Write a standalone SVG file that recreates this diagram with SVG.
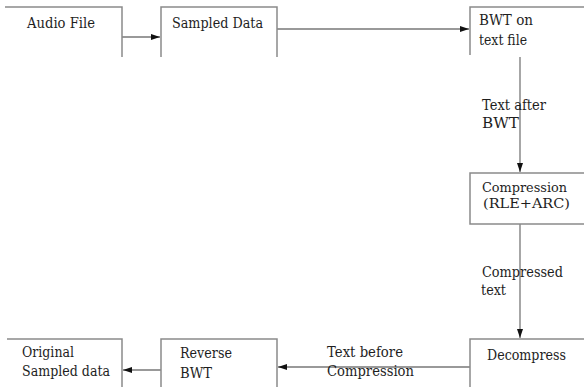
<svg xmlns="http://www.w3.org/2000/svg" width="584" height="387" viewBox="0 0 584 387">
<style>
.box{fill:none;stroke:#8a8a8a;stroke-width:1.5}
.t{font-family:"DejaVu Serif",serif;font-size:14.5px;fill:#1e1e1e}
.s{font-size:13px}
.c{fill:none;stroke:#777;stroke-width:1.3}
</style>
<defs>
<marker id="ah" markerWidth="10" markerHeight="8" refX="9" refY="4" orient="auto" markerUnits="userSpaceOnUse">
<path d="M0,1 L9,4 L0,7 z" fill="#111"/>
</marker>
</defs>
<rect width="584" height="387" fill="#fff"/>
<g id="connectors">
<line class="c" x1="122" y1="37" x2="160" y2="37" marker-end="url(#ah)"/>
<line class="c" x1="277" y1="29" x2="469" y2="29" marker-end="url(#ah)"/>
<line class="c" x1="520" y1="57" x2="520" y2="172" marker-end="url(#ah)"/>
<line class="c" x1="520" y1="224" x2="520" y2="338" marker-end="url(#ah)"/>
<line class="c" x1="470" y1="367" x2="278" y2="367" marker-end="url(#ah)"/>
<line class="c" x1="161" y1="370" x2="123" y2="370" marker-end="url(#ah)"/>
<text class="t" x="482" y="110" textLength="64" lengthAdjust="spacingAndGlyphs">Text after</text>
<text class="t" x="482" y="128" textLength="37" lengthAdjust="spacingAndGlyphs">BWT</text>
<text class="t" x="482" y="277" textLength="81" lengthAdjust="spacingAndGlyphs">Compressed</text>
<text class="t" x="481" y="295" textLength="25" lengthAdjust="spacingAndGlyphs">text</text>
<text class="t" x="327" y="357" textLength="76" lengthAdjust="spacingAndGlyphs">Text before</text>
<text class="t" x="327" y="376" textLength="87" lengthAdjust="spacingAndGlyphs">Compression</text>
</g>
<g id="audio">
<path class="box" d="M5,7 H122 V57"/>
<text class="t" x="27" y="28" textLength="68" lengthAdjust="spacingAndGlyphs">Audio File</text>
</g>
<g id="sampled">
<path class="box" d="M161,57 V7 H277 V57"/>
<text class="t" x="172" y="28" textLength="91" lengthAdjust="spacingAndGlyphs">Sampled Data</text>
</g>
<g id="bwt">
<path class="box" d="M470,55 V7 H590"/>
<text class="t" x="479" y="25" textLength="54" lengthAdjust="spacingAndGlyphs">BWT on</text>
<text class="t" x="479" y="45" textLength="48" lengthAdjust="spacingAndGlyphs">text file</text>
</g>
<g id="compression">
<path class="box" d="M590,173 H470 V224 H590"/>
<text class="t s" x="482" y="192" textLength="85" lengthAdjust="spacingAndGlyphs">Compression</text>
<text class="t s" x="483" y="208" textLength="87" lengthAdjust="spacingAndGlyphs">(RLE+ARC)</text>
</g>
<g id="decompress">
<path class="box" d="M470,387 V339 H590"/>
<text class="t" x="487" y="360" textLength="79" lengthAdjust="spacingAndGlyphs">Decompress</text>
</g>
<g id="reverse">
<path class="box" d="M161,387 V339 H277 V387"/>
<text class="t" x="180" y="358" textLength="52" lengthAdjust="spacingAndGlyphs">Reverse</text>
<text class="t" x="180" y="378" textLength="32" lengthAdjust="spacingAndGlyphs">BWT</text>
</g>
<g id="original">
<path class="box" d="M7,339 H122 V387"/>
<text class="t" x="22" y="357" textLength="52" lengthAdjust="spacingAndGlyphs">Original</text>
<text class="t" x="22" y="376" textLength="88" lengthAdjust="spacingAndGlyphs">Sampled data</text>
</g>
</svg>
